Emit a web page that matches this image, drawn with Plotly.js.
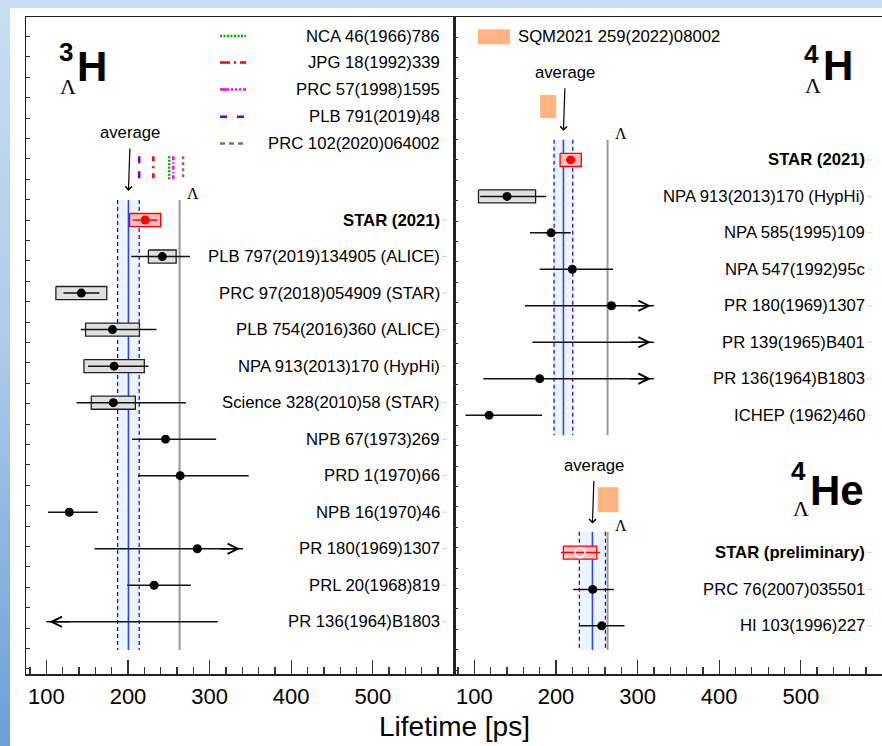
<!DOCTYPE html>
<html><head><meta charset="utf-8">
<script src="https://cdn.plot.ly/plotly-3.0.1.min.js"></script>
<style>
html,body{margin:0;padding:0;width:882px;height:746px;overflow:hidden;background:#fff;}
#bg{position:absolute;left:0;top:0;width:882px;height:746px;background:linear-gradient(to bottom,#c8ddf1 0%,#aecbeb 45%,#6b9fd9 100%);}
#white{position:absolute;left:10px;top:8px;width:872px;height:738px;background:#fff;}
#plot{position:absolute;left:0;top:0;width:882px;height:746px;}
</style></head><body>
<div id="bg"></div><div id="white"></div><div id="plot"></div>
<script>
// ---------------- data ----------------
const LAMBDA_TAU = 263.2;

// 3ΛH (left panel)
const h3Labels = ["<b>STAR (2021)</b>","PLB 797(2019)134905 (ALICE)","PRC 97(2018)054909 (STAR)","PLB 754(2016)360 (ALICE)","NPA 913(2013)170 (HypHi)","Science 328(2010)58 (STAR)","NPB 67(1973)269","PRD 1(1970)66","NPB 16(1970)46","PR 180(1969)1307","PRL 20(1968)819","PR 136(1964)B1803"];
const h3Rows   = [0,1,2,3,4,5,6,7,8,9,10,11];
const h3Val    = [221, 242, 142.8, 181, 183, 182, 246, 264, 128, 285, 232, null];
const h3StatLo = [206, 204, 121, 142, 151, 137, 205, 212, 102, 159, 199, 100];
const h3StatHi = [236, 276, 165, 235, 225, 271, 308, 348, 163, 341, 277, 310];
const h3SysLo  = [202, 225, 111.6, 148, 146, 155, null, null, null, null, null, null];
const h3SysHi  = [240, 259, 174, 214, 220, 209, null, null, null, null, null, null];
const h3Arrow  = [0,0,0,0,0,0,0,0,0,1,0,-1];
const h3Avg = 200.5, h3AvgErr = 13.2;
const h3Band = [-0.55, 11.77];

// theory predictions for 3ΛH
const thNames  = ["NCA 46(1966)786","JPG 18(1992)339","PRC 57(1998)1595","PLB 791(2019)48","PRC 102(2020)064002"];
const thValues = [250.5, 231, 255.4, 213.7, 267.5];
const thRows   = [-1.75, -1.095];

// 4ΛH (right panel, top)
const h4Labels = ["<b>STAR (2021)</b>","NPA 913(2013)170 (HypHi)","NPA 585(1995)109","NPA 547(1992)95c","PR 180(1969)1307","PR 139(1965)B401","PR 136(1964)B1803","ICHEP (1962)460"];
const h4Rows   = [0,1,2,3,4,5,6,7];
const h4Val    = [218, 140, 194, 220, 268, null, 180, 118];
const h4StatLo = [212, 107, 168, 180, 162, 171, 111, 89];
const h4StatHi = [224, 188, 218, 270, 320, 320, 320, 183];
const h4SysLo  = [205, 105, null, null, null, null, null, null];
const h4SysHi  = [231, 175, null, null, null, null, null, null];
const h4Arrow  = [0,0,0,0,1,1,1,0];
const h4Avg = 209.1, h4AvgErr = 11.5;
const h4Band = [-0.55, 7.55];
const h4Sqm = {lo: 180.5, hi: 200, row: -1.465, half: 0.315};

// 4ΛHe (right panel, bottom)
const he4Labels = ["<b>STAR (preliminary)</b>","PRC 76(2007)035501","HI 103(1996)227"];
const he4Rows   = [10.77, 11.78, 12.78];
const he4Val    = [229.5, 245, 256];
const he4StatLo = [206, 221, 229];
const he4StatHi = [254, 271, 284];
const he4SysLo  = [209, null, null];
const he4SysHi  = [250, null, null];
const he4Avg = 244.6, he4AvgErr = 16;
const he4Band = [10.2, 13.44];
const he4Sqm = {lo: 251, hi: 276.5, row: 9.32, half: 0.343};

const xTickVals = [100, 200, 300, 400, 500];

// ---------------- styles ----------------
const thColors = ['#00aa00','#ff0000','#ff00ff','#6e00d2','#8c6e5a'];
const thDashV  = ['2px,1.5px','5px,5px,2px,5px','4px,2px,1.5px,2px','7px,8px','3px,3px'];
const thDashH  = ['2px,1.5px','10px,4px,2px,4px','9px,2px,2px,2px,2px,2px,2px,2px','7px,10px','5px,4px'];
const FONT = 'Liberation Sans, Arial, Helvetica, sans-serif';
const SERIF = 'Liberation Serif, Times New Roman, serif';
const BOXH = 0.18;

// pixel helpers for layout (text) placement
const PX = x => (x - 26) / 856;
const PY = y => (674 - y) / 657;

const traces = [];
const annotations = [];
const shapes = [];

function band(xa, ya, avg, err, b) {
  traces.push({x:[avg-err, avg+err, avg+err, avg-err], y:[b[0], b[0], b[1], b[1]], xaxis:xa, yaxis:ya,
    mode:'lines', fill:'toself', fillcolor:'#ecf5ff', line:{width:0}, hoverinfo:'skip'});
  traces.push({x:[avg-err, avg-err, null, avg+err, avg+err], y:[b[0], b[1], null, b[0], b[1]], xaxis:xa, yaxis:ya,
    mode:'lines', line:{color:'#0000ff', width:1.2, dash:'4px,3px'}, hoverinfo:'skip'});
  traces.push({x:[avg, avg], y:[b[0], b[1]], xaxis:xa, yaxis:ya, mode:'lines', line:{color:'#2a3cff', width:1.5}, hoverinfo:'skip'});
  traces.push({x:[LAMBDA_TAU, LAMBDA_TAU], y:[b[0], b[1]], xaxis:xa, yaxis:ya, mode:'lines', line:{color:'#999999', width:2}, hoverinfo:'skip'});
  annotations.push({xref:xa, yref:ya, x:LAMBDA_TAU, y:b[0], xanchor:'left', yanchor:'middle', xshift:5, yshift:6,
    text:'Λ', showarrow:false, font:{family:SERIF, size:16, color:'#000'}});
}

function boxes(xa, ya, rows, lo, hi, half, fill, lc) {
  const x = [], y = [];
  rows.forEach((r, i) => {
    if (lo[i] == null) return;
    x.push(lo[i], hi[i], hi[i], lo[i], lo[i], null);
    y.push(r-half, r-half, r+half, r+half, r-half, null);
  });
  traces.push({x, y, xaxis:xa, yaxis:ya, mode:'lines', fill:'toself', fillcolor:fill, line:{color:lc, width:1.3}, hoverinfo:'skip'});
}

function segs(xa, ya, rows, lo, hi, idx, color) {
  const x = [], y = [];
  idx.forEach(i => { x.push(lo[i], hi[i], null); y.push(rows[i], rows[i], null); });
  traces.push({x, y, xaxis:xa, yaxis:ya, mode:'lines', line:{color, width:1.5}, hoverinfo:'skip'});
}

function points(xa, ya, rows, vals, idx, marker) {
  traces.push({x: idx.map(i => vals[i]), y: idx.map(i => rows[i]), xaxis:xa, yaxis:ya, mode:'markers', marker, hoverinfo:'skip'});
}

function arrows(xa, ya, rows, lo, hi, dir) {
  rows.forEach((r, i) => {
    if (!dir[i]) return;
    annotations.push({xref:xa, yref:ya, x: dir[i] > 0 ? hi[i] : lo[i], y:r, ax: dir[i] > 0 ? -25 : 25, ay:0,
      text:'', showarrow:true, arrowhead:5, arrowsize:1.35, arrowwidth:1.5, arrowcolor:'#000', standoff:3});
  });
}

function labels(ya, rows, labs, xRight) {
  rows.forEach((r, i) => {
    annotations.push({xref:'paper', yref:ya, x:PX(xRight), y:r, xanchor:'right', yanchor:'middle',
      text:labs[i], showarrow:false, font:{family:FONT, size:16.7, color:'#000'}});
    shapes.push({type:'line', xref:'paper', yref:ya, x0:PX(xRight), x1:PX(xRight+5), y0:r, y1:r, line:{color:'#d4d4d4', width:1}});
  });
}

function average(xa, ya, avg, firstRow) {
  annotations.push({xref:xa, yref:ya, x:avg, y:firstRow - 0.77, ax:2, ay:-59.5, text:'average', showarrow:true,
    arrowhead:4, arrowsize:1.1, arrowwidth:1.2, arrowcolor:'#000', startstandoff:5, standoff:1,
    font:{family:FONT, size:16.7, color:'#000'}});
}

const idxAll = n => Array.from({length:n}, (_, i) => i);

// ---- left panel: 3ΛH
band('x', 'y', h3Avg, h3AvgErr, h3Band);
thValues.forEach((v, i) => {
  traces.push({x:[v, v], y:thRows, xaxis:'x', yaxis:'y', mode:'lines', line:{color:thColors[i], width:2.5, dash:thDashV[i]}, hoverinfo:'skip'});
});
boxes('x', 'y', h3Rows.slice(1), h3SysLo.slice(1), h3SysHi.slice(1), BOXH, '#e0e0e0', '#222');
boxes('x', 'y', [h3Rows[0]], [h3SysLo[0]], [h3SysHi[0]], BOXH, '#ffc2c2', '#ff0000');
segs('x', 'y', h3Rows, h3StatLo, h3StatHi, idxAll(12).slice(1), '#111');
segs('x', 'y', h3Rows, h3StatLo, h3StatHi, [0], '#ff0000');
points('x', 'y', h3Rows, h3Val, idxAll(12).slice(1).filter(i => h3Val[i] != null), {color:'#000', size:9});
points('x', 'y', h3Rows, h3Val, [0], {color:'#ff0000', size:9});
arrows('x', 'y', h3Rows, h3StatLo, h3StatHi, h3Arrow);
labels('y', h3Rows, h3Labels, 442);
average('x', 'y', h3Avg, h3Rows[0]);

// ---- right panel: 4ΛH
band('x2', 'y2', h4Avg, h4AvgErr, h4Band);
boxes('x2', 'y2', [h4Sqm.row], [h4Sqm.lo], [h4Sqm.hi], h4Sqm.half, '#ffb482', 'rgba(0,0,0,0)');
boxes('x2', 'y2', h4Rows.slice(1), h4SysLo.slice(1), h4SysHi.slice(1), BOXH, '#e0e0e0', '#222');
boxes('x2', 'y2', [h4Rows[0]], [h4SysLo[0]], [h4SysHi[0]], BOXH, '#ffc2c2', '#ff0000');
segs('x2', 'y2', h4Rows, h4StatLo, h4StatHi, idxAll(8).slice(1), '#111');
segs('x2', 'y2', h4Rows, h4StatLo, h4StatHi, [0], '#ff0000');
points('x2', 'y2', h4Rows, h4Val, idxAll(8).slice(1).filter(i => h4Val[i] != null), {color:'#000', size:9});
points('x2', 'y2', h4Rows, h4Val, [0], {color:'#ff0000', size:9});
arrows('x2', 'y2', h4Rows, h4StatLo, h4StatHi, h4Arrow);
labels('y2', h4Rows, h4Labels, 867);
average('x2', 'y2', h4Avg, h4Rows[0]);

// ---- right panel: 4ΛHe
band('x2', 'y2', he4Avg, he4AvgErr, he4Band);
boxes('x2', 'y2', [he4Sqm.row], [he4Sqm.lo], [he4Sqm.hi], he4Sqm.half, '#ffb482', 'rgba(0,0,0,0)');
boxes('x2', 'y2', [he4Rows[0]], [he4SysLo[0]], [he4SysHi[0]], BOXH, '#ffc2c2', '#ff0000');
segs('x2', 'y2', he4Rows, he4StatLo, he4StatHi, [1, 2], '#111');
segs('x2', 'y2', he4Rows, he4StatLo, he4StatHi, [0], '#ff0000');
points('x2', 'y2', he4Rows, he4Val, [1, 2], {color:'#000', size:9});
points('x2', 'y2', he4Rows, he4Val, [0], {color:'#ffffff', size:10, symbol:'circle-open', line:{color:'#ff0000', width:1.6}});
labels('y2', he4Rows, he4Labels, 867);
average('x2', 'y2', he4Avg, he4Rows[0]);

// ---- legends
const legY = [36, 62.5, 89.5, 116.7, 143.5];
thNames.forEach((n, i) => {
  shapes.push({type:'line', xref:'paper', yref:'paper', x0:PX(220), x1:PX(246), y0:PY(legY[i]), y1:PY(legY[i]),
    line:{color:thColors[i], width:2.5, dash:thDashH[i]}});
  annotations.push({xref:'paper', yref:'paper', x:PX(442), y:PY(legY[i]), xanchor:'right', yanchor:'middle',
    text:n, showarrow:false, font:{family:FONT, size:16.7, color:'#000'}});
});
shapes.push({type:'rect', xref:'paper', yref:'paper', x0:PX(478), x1:PX(510), y0:PY(44.3), y1:PY(29.3), fillcolor:'#ffb482', line:{width:0}});
annotations.push({xref:'paper', yref:'paper', x:PX(516), y:PY(36), xanchor:'left', yanchor:'middle',
  text:'SQM2021 259(2022)08002', showarrow:false, font:{family:FONT, size:16.7, color:'#000'}});

// ---- big nucleus labels
function txt(x, y, text, size, family) {
  annotations.push({xref:'paper', yref:'paper', x:PX(x), y:PY(y), xanchor:'center', yanchor:'middle', text, showarrow:false,
    font:{family: family || FONT, size, color:'#000'}});
}
txt(65.5, 52.3, '<b>3</b>', 26); txt(92, 66.2, '<b>H</b>', 42); txt(67.8, 86.3, 'Λ', 22, SERIF);
txt(811, 54.2, '<b>4</b>', 26); txt(837.5, 65.8, '<b>H</b>', 42); txt(812.5, 85, 'Λ', 22, SERIF);
txt(798, 471, '<b>4</b>', 26); txt(837, 490, '<b>He</b>', 42); txt(801, 508.7, 'Λ', 22, SERIF);
txt(454, 726, 'Lifetime [ps]', 28);

// ---------------- layout ----------------
const xCommon = {
  range:[75, 599.5], showline:true, linecolor:'#222', linewidth:1.5, mirror:true,
  tickmode:'array', tickvals:xTickVals, ticks:'inside', ticklen:14, tickwidth:1.3, tickcolor:'#333',
  minor:{tickmode:'linear', tick0:0, dtick:20, ticks:'inside', ticklen:7, tickwidth:1.3, tickcolor:'#333'},
  tickfont:{family:FONT, size:22, color:'#000'}, ticklabelstandoff:2,
  showgrid:false, zeroline:false, fixedrange:true
};
const yCommon = {
  showline:true, linecolor:'#222', linewidth:1.5, ticks:'inside', ticklen:4, tickwidth:1, tickcolor:'#333',
  tickmode:'linear', tick0:0, showticklabels:false, showgrid:false, zeroline:false, fixedrange:true
};
const layout = {
  width:882, height:746, margin:{l:26, r:0, t:17, b:72, pad:0},
  paper_bgcolor:'rgba(0,0,0,0)', plot_bgcolor:'rgba(0,0,0,0)', showlegend:false,
  font:{family:FONT, color:'#000'},
  xaxis: Object.assign({}, xCommon, {domain:[0, 0.5], anchor:'y'}),
  xaxis2: Object.assign({}, xCommon, {domain:[0.5, 1], anchor:'y2'}),
  yaxis: Object.assign({}, yCommon, {domain:[0, 1], anchor:'x', range:[12.43, -5.56], dtick:0.5586, mirror:true}),
  yaxis2: Object.assign({}, yCommon, {domain:[0, 1], anchor:'x2', range:[14.10, -3.92], dtick:0.5597}),
  annotations, shapes
};
Plotly.newPlot('plot', traces, layout, {displayModeBar:false, staticPlot:true});
</script></body></html>
